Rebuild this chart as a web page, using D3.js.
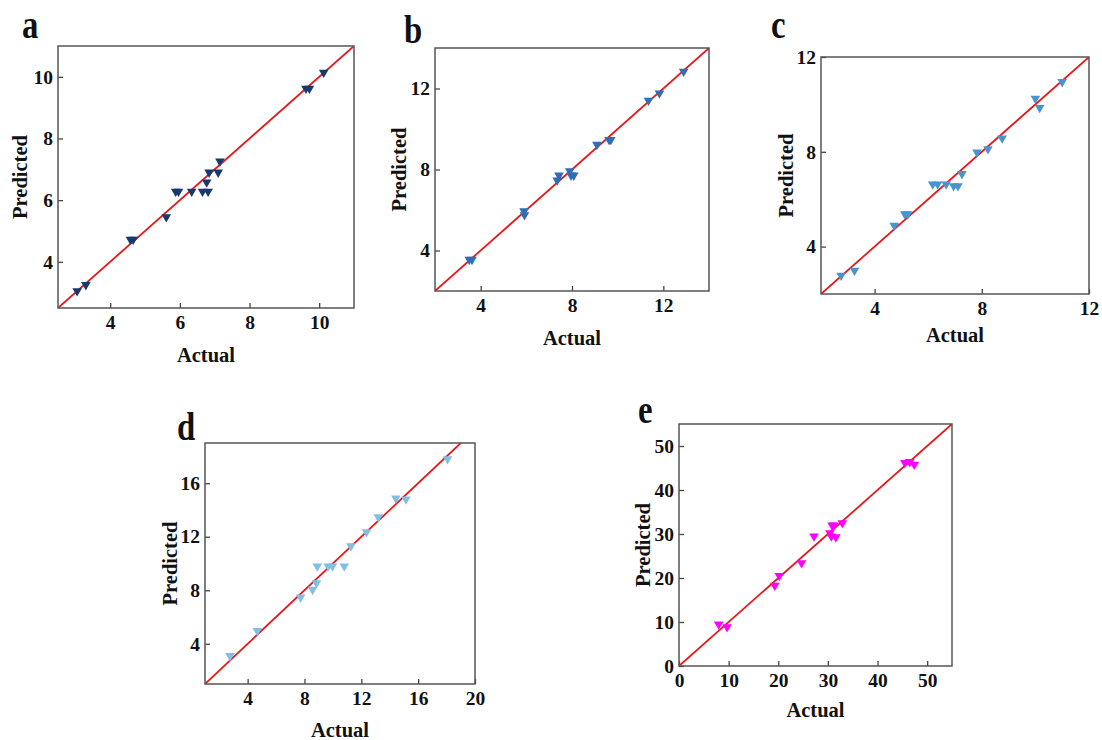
<!DOCTYPE html>
<html>
<head>
<meta charset="utf-8">
<script src="https://cdn.jsdelivr.net/npm/d3@7"></script>
<style>
  html, body { margin: 0; padding: 0; background: #fff; }
  text { font-family: "Liberation Serif", "Times New Roman", serif; font-weight: bold; fill: #111; }
</style>
</head>
<body>
<svg id="chart" width="1102" height="740"></svg>
<script>
// ---------- data ----------
const aActual    = [3.05, 3.3, 4.58, 4.66, 5.61, 5.88, 5.96, 6.34, 6.65, 6.81, 6.77, 6.84, 7.1, 7.15, 9.62, 9.72, 10.13];
const aPredicted = [3.05, 3.25, 4.72, 4.72, 5.45, 6.28, 6.28, 6.28, 6.28, 6.28, 6.58, 6.9, 6.9, 7.26, 9.62, 9.62, 10.14];

const bActual    = [3.5, 3.62, 5.9, 5.92, 7.35, 7.43, 7.9, 7.96, 8.08, 9.09, 9.62, 9.7, 11.35, 11.83, 12.89];
const bPredicted = [3.55, 3.55, 5.95, 5.75, 7.47, 7.71, 7.93, 7.71, 7.71, 9.23, 9.47, 9.47, 11.41, 11.77, 12.84];

const cActual    = [2.75, 3.25, 4.73, 5.13, 5.24, 6.17, 6.35, 6.67, 6.95, 7.11, 7.26, 7.82, 8.23, 8.76, 10.0, 10.16, 11.0];
const cPredicted = [2.78, 2.99, 4.89, 5.37, 5.37, 6.63, 6.63, 6.63, 6.56, 6.56, 7.07, 7.98, 8.12, 8.57, 10.25, 9.86, 10.95];

const dActual    = [2.76, 4.68, 7.73, 8.57, 8.85, 8.9, 9.67, 9.97, 10.8, 11.27, 12.37, 13.19, 14.43, 15.14, 18.07];
const dPredicted = [3.1, 4.98, 7.47, 8.05, 8.55, 9.8, 9.8, 9.8, 9.8, 11.3, 12.35, 13.48, 14.88, 14.8, 17.8];

const eActual    = [8.0, 9.68, 19.3, 20.2, 24.7, 27.2, 30.4, 30.7, 31.6, 30.85, 31.2, 32.9, 45.5, 46.5, 47.4];
const ePredicted = [9.48, 8.86, 18.3, 20.5, 23.4, 29.5, 30.2, 29.5, 29.3, 32.0, 32.0, 32.5, 46.2, 46.4, 45.8];

const aTicksX = [4, 6, 8, 10], aTicksY = [4, 6, 8, 10];
const bTicksX = [4, 8, 12],    bTicksY = [4, 8, 12];
const cTicksX = [4, 8, 12],    cTicksY = [4, 8, 12];
const dTicksX = [4, 8, 12, 16, 20], dTicksY = [4, 8, 12, 16];
const eTicksX = [0, 10, 20, 30, 40, 50], eTicksY = [0, 10, 20, 30, 40, 50];

const panelLabels = ["a", "b", "c", "d", "e"];

// ---------- layout ----------
const panels = [
  { x: aActual, y: aPredicted, tx: aTicksX, ty: aTicksY, xd: [2.5, 11], yd: [2.5, 11],
    box: [58, 46, 354, 308], color: "#17396b", lab: [22, 38], xt: 54, yt: 31 },
  { x: bActual, y: bPredicted, tx: bTicksX, ty: bTicksY, xd: [2, 14], yd: [2, 14],
    box: [435, 48, 709, 291], color: "#2f6db4", lab: [404, 43], xt: 54, yt: 29 },
  { x: cActual, y: cPredicted, tx: cTicksX, ty: cTicksY, xd: [2, 12], yd: [2, 12],
    box: [821, 57, 1089, 294], color: "#4a94ce", lab: [771, 38], xt: 48, yt: 28 },
  { x: dActual, y: dPredicted, tx: dTicksX, ty: dTicksY, xd: [1, 20], yd: [1, 19],
    box: [205, 443, 475, 684], color: "#82bfe4", lab: [177, 440], xt: 53, yt: 28 },
  { x: eActual, y: ePredicted, tx: eTicksX, ty: eTicksY, xd: [0, 55], yd: [0, 55],
    box: [679, 424, 952, 666], color: "#ff00ff", lab: [638, 423], xt: 51, yt: 29 }
];

const svg = d3.select("#chart");
const tri = d3.symbol().type(d3.symbolTriangle).size(40);

panels.forEach((p, idx) => {
  const [x0, y0, x1, y1] = p.box;
  const xs = d3.scaleLinear().domain(p.xd).range([x0, x1]);
  const ys = d3.scaleLinear().domain(p.yd).range([y1, y0]);
  const g = svg.append("g");

  const clipId = "clip-" + idx;
  g.append("clipPath").attr("id", clipId)
    .append("rect").attr("x", x0).attr("y", y0).attr("width", x1 - x0).attr("height", y1 - y0);

  const xa = g.append("g").attr("transform", `translate(0,${y1})`)
    .call(d3.axisBottom(xs).tickValues(p.tx).tickFormat(d3.format("d")).tickSizeInner(-5).tickSizeOuter(0).tickPadding(7));
  const ya = g.append("g").attr("transform", `translate(${x0},0)`)
    .call(d3.axisLeft(ys).tickValues(p.ty).tickFormat(d3.format("d")).tickSizeInner(-5).tickSizeOuter(0).tickPadding(5));
  [xa, ya].forEach(a => {
    a.select(".domain").remove();
    a.selectAll(".tick line").attr("stroke", "#444").attr("stroke-width", 1.3);
    a.selectAll(".tick text")
      .style("font-family", '"Liberation Serif", "Times New Roman", serif')
      .style("font-weight", "bold").style("font-size", "19.5px").attr("fill", "#111");
  });

  const lo = Math.max(p.xd[0], p.yd[0]), hi = Math.min(p.xd[1], p.yd[1]);
  g.append("line")
    .attr("x1", xs(lo)).attr("y1", ys(lo)).attr("x2", xs(hi)).attr("y2", ys(hi))
    .attr("stroke", "#e3191c").attr("stroke-width", 1.8)
    .attr("clip-path", `url(#${clipId})`);

  g.append("g").selectAll("path").data(p.x.map((v, i) => [v, p.y[i]])).join("path")
    .attr("d", tri)
    .attr("transform", d => `translate(${xs(d[0])},${ys(d[1])}) rotate(180)`)
    .attr("fill", p.color);

  g.append("rect").attr("x", x0).attr("y", y0).attr("width", x1 - x0).attr("height", y1 - y0)
    .attr("fill", "none").attr("stroke", "#555").attr("stroke-width", 1.5);

  g.append("text").attr("x", (x0 + x1) / 2).attr("y", y1 + p.xt)
    .attr("text-anchor", "middle").style("font-size", "20.5px").text("Actual");
  g.append("text")
    .attr("transform", `translate(${x0 - p.yt},${(y0 + y1) / 2}) rotate(-90)`)
    .attr("text-anchor", "middle").style("font-size", "20.5px").text("Predicted");

  g.append("text")
    .attr("transform", `translate(${p.lab[0]},${p.lab[1]}) scale(0.82,1)`)
    .style("font-size", "40px").text(panelLabels[idx]);
});
</script>
</body>
</html>
